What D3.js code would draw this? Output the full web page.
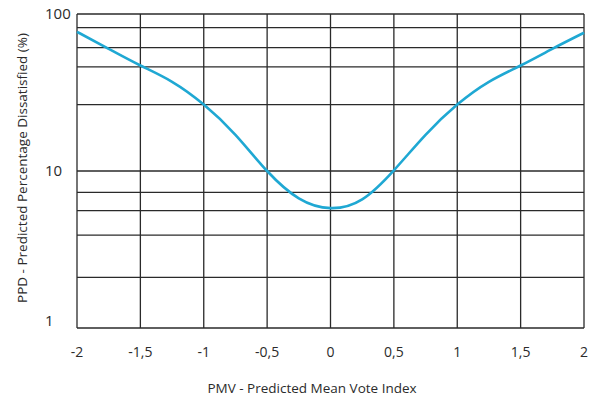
<!DOCTYPE html>
<html>
<head>
    <script src="https://d3js.org/d3.v7.min.js"></script>
    <style>
        body { margin: 0; background: #fff; }
        text { font-family: "Open Sans", "Noto Sans", sans-serif; fill: #2b2b2b; }
    </style>
</head>
<body>
    <svg id="chart"></svg>
    <script>
        // PMV values along the x axis, PPD
        const pmv = [-2, -1.75, -1.5, -1.25, -1, -0.75, -0.5, -0.25, 0, 0.25, 0.5, 0.75, 1, 1.25, 1.5, 1.75, 2];
        const ppd = [77, 60, 47, 37, 26.5, 17, 10, 6.7, 5.8, 6.6, 10.1, 17, 26.5, 37, 47, 60, 76];

        // Grid lines and tick labels
        const xTicks = [-2, -1.5, -1, -0.5, 0, 0.5, 1, 1.5, 2];
        const yGrid = [1, 2.1, 3.9, 5.6, 7.3, 10, 26.5, 46, 61, 82, 100];
        const yLabels = [1, 10, 100];

        const width = 592, height = 398;
        const plotLeft = 77, plotRight = 584, plotTop = 14, plotBottom = 328;

        const svg = d3.select("#chart")
            .attr("width", width)
            .attr("height", height);

        const x = d3.scaleLinear().domain([-2, 2]).range([plotLeft, plotRight]);
        const y = d3.scaleLog().domain([1, 100]).range([plotBottom, plotTop]);

        // horizontal grid
        svg.append("g")
            .selectAll("line")
            .data(yGrid)
            .join("line")
                .attr("x1", plotLeft)
                .attr("x2", plotRight)
                .attr("y1", d => y(d))
                .attr("y2", d => y(d))
                .attr("stroke", "#2a2a2a")
                .attr("stroke-width", 1.3);

        // vertical grid
        svg.append("g")
            .selectAll("line")
            .data(xTicks)
            .join("line")
                .attr("x1", d => x(d))
                .attr("x2", d => x(d))
                .attr("y1", plotTop)
                .attr("y2", plotBottom)
                .attr("stroke", "#2a2a2a")
                .attr("stroke-width", 1.3);

        // x tick labels (comma decimals)
        svg.append("g")
            .selectAll("text")
            .data(xTicks)
            .join("text")
                .attr("x", d => x(d))
                .attr("y", 357)
                .attr("text-anchor", "middle")
                .style("font-size", "14px")
                .text(d => String(d).replace(".", ","));

        // y tick labels
        svg.append("g")
            .selectAll("text")
            .data(yLabels)
            .join("text")
                .attr("x", 45)
                .attr("y", d => d === 1 ? y(d) - 2 : y(d) + 5)
                .style("font-size", "15px")
                .text(d => d);

        // curve
        const line = d3.line()
            .x((d, i) => x(pmv[i]))
            .y(d => y(d))
            .curve(d3.curveNatural);

        svg.append("path")
            .datum(ppd)
            .attr("d", line)
            .attr("fill", "none")
            .attr("stroke", "#1fa8d3")
            .attr("stroke-width", 2.6);

        // axis titles
        svg.append("text")
            .attr("x", 312)
            .attr("y", 393)
            .attr("text-anchor", "middle")
            .style("font-size", "13.5px")
            .text("PMV - Predicted Mean Vote Index");

        svg.append("text")
            .attr("transform", "translate(27,168) rotate(-90)")
            .attr("text-anchor", "middle")
            .style("font-size", "13.5px")
            .text("PPD - Predicted Percentage Dissatisfied (%)");
    </script>
</body>
</html>
